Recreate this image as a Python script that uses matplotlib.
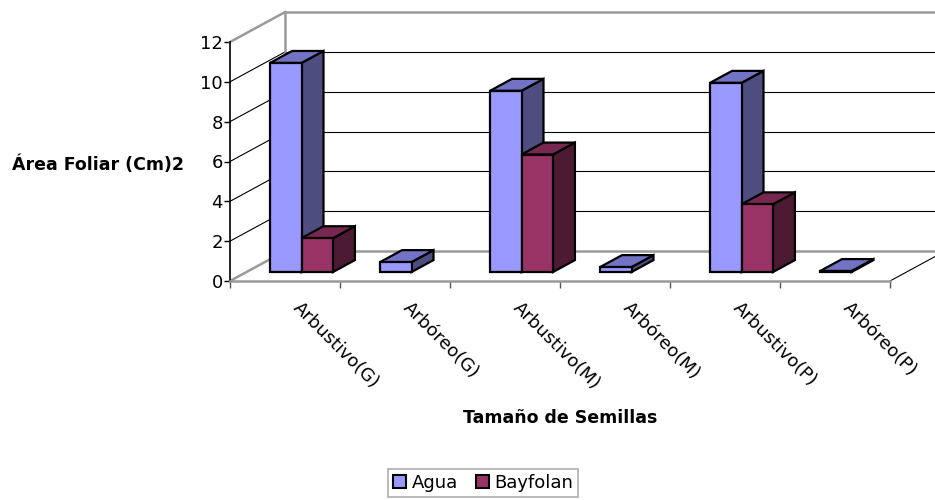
import matplotlib
matplotlib.use("Agg")
import matplotlib.pyplot as plt
from matplotlib.patches import Polygon, Patch
from matplotlib.transforms import ScaledTranslation

plt.rcParams["font.family"] = ["DejaVu Sans"]

categories = ["Arbustivo(G)", "Arbóreo(G)", "Arbustivo(M)",
              "Arbóreo(M)", "Arbustivo(P)", "Arbóreo(P)"]
agua = [10.5, 0.5, 9.1, 0.25, 9.5, 0.05]
bayfolan = [1.7, 0, 5.9, 0, 3.4, 0]
series_names = ["Agua", "Bayfolan"]
y_ticks = [0, 2, 4, 6, 8, 10, 12]

# colours: front, top, side
blue = ("#9999FF", "#7373C6", "#4D4D80")
red = ("#993366", "#772850", "#4D1A33")

# oblique depth of the floor in data units (x: categories, y: values)
DX, DY = 0.5, 1.5
z0, z1 = 0.3, 0.7          # bar depth, as fraction of floor depth
bw = 1 / 3.5               # bar width (gap 150%)
ymax = 12

fig = plt.figure(figsize=(9.35, 5), dpi=100)
ax = fig.add_axes([230 / 935, 219 / 500, 660 / 935, 239 / 500])
ax.set_xlim(0, len(categories))
ax.set_ylim(0, ymax)

grey = "#9a9a9a"
n = len(categories)

# back wall
for v in y_ticks[1:-1]:
    ax.plot([DX, n + DX], [v + DY, v + DY], color="black", lw=0.8, clip_on=False)
    ax.plot([0, DX], [v, v + DY], color="black", lw=0.8, clip_on=False)
ax.plot([DX, n + DX], [ymax + DY, ymax + DY], color=grey, lw=1.8, clip_on=False)
ax.plot([0, DX], [ymax, ymax + DY], color=grey, lw=1.8, clip_on=False)
ax.plot([DX, DX], [DY, ymax + DY], color=grey, lw=1.8, clip_on=False)
# floor
ax.plot([DX, n + DX], [DY, DY], color=grey, lw=1.8, clip_on=False)
ax.plot([0, DX], [0, DY], color=grey, lw=1.8, clip_on=False)
ax.plot([n, n + DX], [0, DY], color="black", lw=0.8, clip_on=False)


def bar3d(x, h, cols):
    x0 = x + z0 * DX
    y0 = z0 * DY
    ddx = (z1 - z0) * DX
    ddy = (z1 - z0) * DY
    front = [(x0, y0), (x0 + bw, y0), (x0 + bw, y0 + h), (x0, y0 + h)]
    top = [(x0, y0 + h), (x0 + bw, y0 + h),
           (x0 + bw + ddx, y0 + h + ddy), (x0 + ddx, y0 + h + ddy)]
    side = [(x0 + bw, y0), (x0 + bw + ddx, y0 + ddy),
            (x0 + bw + ddx, y0 + h + ddy), (x0 + bw, y0 + h)]
    for pts, c in ((side, cols[2]), (top, cols[1]), (front, cols[0])):
        ax.add_patch(Polygon(pts, closed=True, facecolor=c, edgecolor="black",
                             lw=1.6, joinstyle="miter", clip_on=False, zorder=3))


for i in range(n):
    if agua[i] > 0:
        bar3d(i + 0.5 - bw, agua[i], blue)
    if bayfolan[i] > 0:
        bar3d(i + 0.5, bayfolan[i], red)

for s in ["top", "right"]:
    ax.spines[s].set_visible(False)
ax.spines["left"].set_color("black")
ax.spines["left"].set_linewidth(1.2)
ax.spines["bottom"].set_color(grey)
ax.spines["bottom"].set_linewidth(1.8)
ax.set_facecolor("none")

ax.set_yticks(y_ticks)
ax.tick_params(axis="y", direction="out", length=4, width=1, labelsize=13, pad=1)
ax.set_xticks(range(n + 1))
ax.set_xticklabels([])
ax.tick_params(axis="x", which="major", direction="out", length=5, width=1,
               color="#555555")
ax.set_xticks([i + 0.5 for i in range(n)], minor=True)
ax.set_xticklabels(categories, minor=True, rotation=-45, ha="left", va="top",
                   rotation_mode="anchor", fontsize=13)
ax.tick_params(axis="x", which="minor", length=0, pad=13)
off = ScaledTranslation(17 / 100, 0, fig.dpi_scale_trans)
for lbl in ax.get_xticklabels(minor=True):
    lbl.set_transform(lbl.get_transform() + off)

ax.set_ylabel("Área Foliar (Cm)2", rotation=0, fontsize=12.5, fontweight="bold",
              ha="left", va="center")
ax.yaxis.set_label_coords(-218 / 660, 116 / 239)
ax.set_xlabel("Tamaño de Semillas", fontsize=12.5, fontweight="bold", va="center")
ax.xaxis.set_label_coords(0.5, -137 / 239)

handles = [Patch(facecolor=blue[0], edgecolor="black", lw=1.5),
           Patch(facecolor=red[0], edgecolor="black", lw=1.5)]
leg = fig.legend(handles, series_names, loc="center", ncol=2,
                 bbox_to_anchor=(483 / 935, 17 / 500), fontsize=13,
                 frameon=True, fancybox=False, edgecolor=grey,
                 handlelength=0.72, handleheight=0.72, handletextpad=0.3,
                 columnspacing=1.0, borderpad=0.3, borderaxespad=0)
leg.get_frame().set_linewidth(1.2)

fig.savefig("out.png", dpi=100, facecolor="white")
